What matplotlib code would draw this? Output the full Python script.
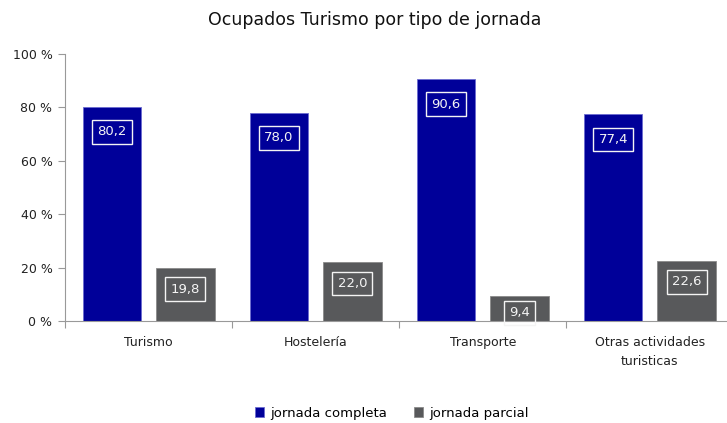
import matplotlib
matplotlib.use("Agg")
import matplotlib.pyplot as plt
import numpy as np

categories = ["Turismo", "Hostelería", "Transporte", "Otras actividades\nturisticas"]
completa = [80.2, 78.0, 90.6, 77.4]
parcial = [19.8, 22.0, 9.4, 22.6]
series_names = ["jornada completa", "jornada parcial"]
yticks = [0, 20, 40, 60, 80, 100]

W, H = 727, 423
fig = plt.figure(figsize=(W / 100, H / 100), dpi=100)
left, right = 65 / W, 733.5 / W
bottom, top = (H - 321) / H, (H - 54) / H
ax = fig.add_axes([left, bottom, right - left, top - bottom])

blue = "#000099"
gray = "#58595b"
x = np.arange(len(categories)) + 0.5
bw = 0.35
off = 0.22
b1 = ax.bar(x - off, completa, bw, color=blue, edgecolor="#6b6bd0", linewidth=0.6, label=series_names[0])
b2 = ax.bar(x + off, parcial, bw, color=gray, edgecolor="#8a8a8a", linewidth=0.6, label=series_names[1])

for bars, vals, d in ((b1, completa, 9.4), (b2, parcial, 7.9)):
    for rect, v in zip(bars, vals):
        ax.text(rect.get_x() + rect.get_width() / 2, max(v - d, 3.0),
                f"{v:.1f}".replace(".", ","),
                ha="center", va="center", color="#f4f4f4", fontsize=9.5,
                bbox=dict(boxstyle="square,pad=0.4", fc="none", ec="#f4f4f4", lw=1))

ax.set_xlim(0, len(categories))
ax.set_ylim(0, 100)
ax.set_yticks(yticks)
ax.set_yticklabels([f"{t} %" for t in yticks], fontsize=9, color="#222222")
ax.set_xticks(np.arange(len(categories) + 1))
ax.set_xticklabels([])
ax.set_xticks(x, minor=True)
ax.set_xticklabels(categories, minor=True, fontsize=9, color="#222222", linespacing=1.55, va="top")
ax.tick_params(axis="x", which="minor", length=0, pad=11)
ax.tick_params(axis="x", which="major", length=5, color="#999999", direction="out")
ax.tick_params(axis="y", length=5, color="#999999", direction="out", pad=4)
for s in ("top", "right"):
    ax.spines[s].set_visible(False)
for s in ("left", "bottom"):
    ax.spines[s].set_color("#999999")

fig.text(375 / W, 1 - 20 / H, "Ocupados Turismo por tipo de jornada", ha="center", va="center", fontsize=12.5, color="#111111")

fig.legend(handles=[b1, b2], labels=series_names, loc="center", bbox_to_anchor=(392 / W, 1 - 413 / H),
           ncol=2, frameon=False, fontsize=9.5, handlelength=0.7, handleheight=0.7, columnspacing=2.0, handletextpad=0.5)

fig.savefig("out.png", dpi=100)
